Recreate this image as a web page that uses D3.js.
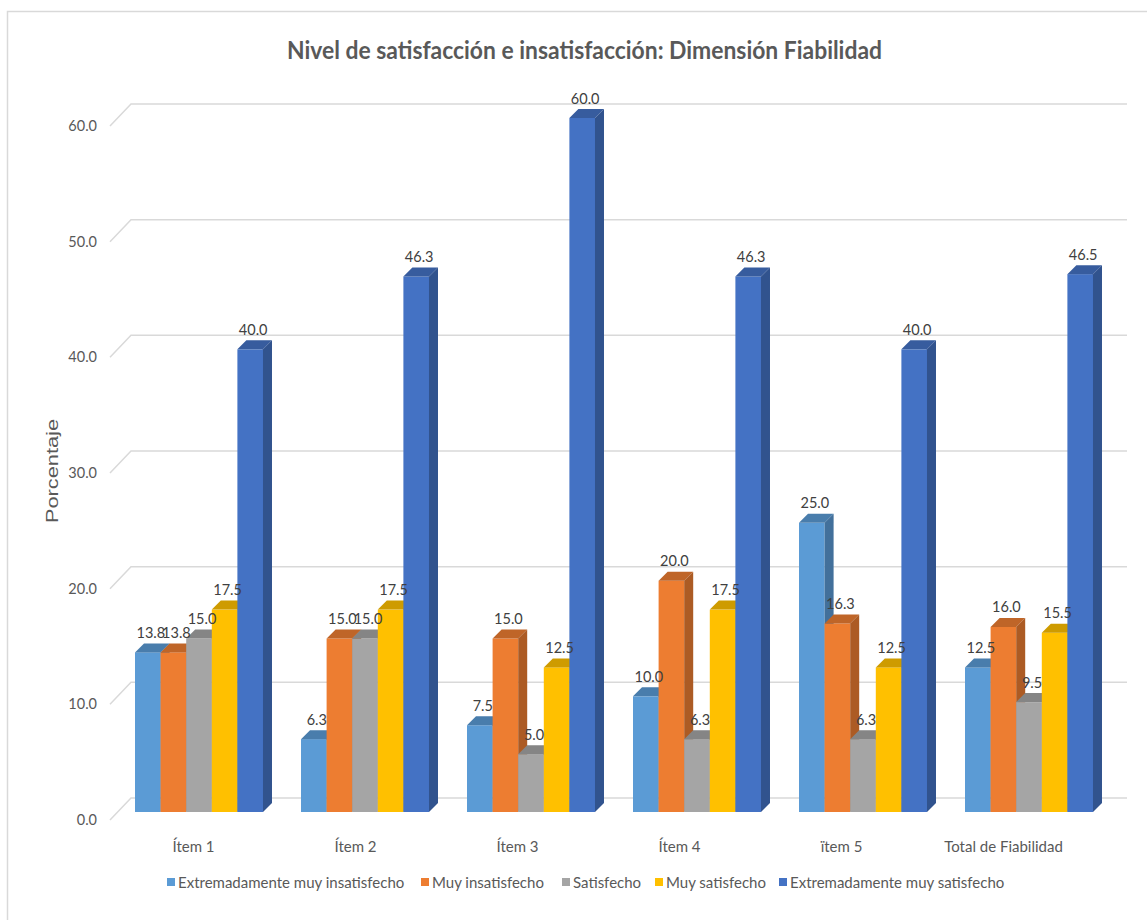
<!DOCTYPE html>
<html>
<head>
<meta charset="utf-8">
<script src="https://cdn.jsdelivr.net/npm/d3@7"></script>
<style>
  html, body { margin: 0; padding: 0; background: #fff; }
  svg { display: block; }
  text { font-family: Lato, "Open Sans", sans-serif; }
</style>
</head>
<body>
<svg id="chart" width="1147" height="920"></svg>
<script>
// Categories and series
const categories = ["Ítem 1", "Ítem 2", "Ítem 3", "Ítem 4", "ïtem 5", "Total de Fiabilidad"];
const seriesNames = [
  "Extremadamente muy insatisfecho",
  "Muy insatisfecho",
  "Satisfecho",
  "Muy satisfecho",
  "Extremadamente muy satisfecho"
];
const extInsatisfecho = [13.8, 6.3, 7.5, 10.0, 25.0, 12.5];
const muyInsatisfecho = [13.8, 15.0, 15.0, 20.0, 16.3, 16.0];
const satisfecho      = [15.0, 15.0, 5.0, 6.3, 6.3, 9.5];
const muySatisfecho   = [17.5, 17.5, 12.5, 17.5, 12.5, 15.5];
const extSatisfecho   = [40.0, 46.3, 60.0, 46.3, 40.0, 46.5];
const yTicks = [0, 10, 20, 30, 40, 50, 60];
const colors = ["#5B9BD5", "#ED7D31", "#A5A5A5", "#FFC000", "#4472C4"];

const seriesValues = [extInsatisfecho, muyInsatisfecho, satisfecho, muySatisfecho, extSatisfecho];

const svg = d3.select("#chart");
const textColor = "#595959";

// Chart area border
svg.append("rect")
  .attr("x", 7.5).attr("y", 11.5)
  .attr("width", 1160).attr("height", 930)
  .attr("fill", "#fff")
  .attr("stroke", "#d9d9d9").attr("stroke-width", 1.5);

// Scales (y on the bars' front face)
const y = d3.scaleLinear().domain([0, 60]).range([812, 118]);
const x = d3.scaleBand().domain(categories).range([116, 1112])
  .paddingInner(0.229).paddingOuter(0.1145);
const xs = d3.scaleBand().domain(seriesNames).range([0, x.bandwidth()]);
// category labels sit along the front edge of the floor
const xLabel = d3.scaleBand().domain(categories).range([112.5, 1084.5]);

// 3D offsets
const depth = { dx: 9, dy: 9 };          // bar depth
const front = { dx: -7, dy: 8 };         // front edge of the plot box relative to bar face
const back = { dx: 14, dy: -14 };        // back wall relative to bar face
const gridRight = 1127;

// Gridlines on the back wall with the diagonal on the side wall
const grid = svg.append("g");
yTicks.forEach(v => {
  const yy = y(v);
  const x0 = 117 + front.dx, y0 = yy + front.dy;
  const x1 = 117 + back.dx, y1 = yy + back.dy;
  grid.append("path")
    .attr("d", `M${x0},${y0}L${x1},${y1}L${gridRight},${y1}`)
    .attr("fill", "none")
    .attr("stroke", "#d9d9d9")
    .attr("stroke-width", 1.5);
});

// Y axis tick labels
const yAxis = d3.axisLeft(y).tickValues(yTicks).tickFormat(d3.format(".1f")).tickSize(0).tickPadding(0);
const yAxisG = svg.append("g")
  .attr("transform", `translate(${97}, ${front.dy})`)
  .call(yAxis);
yAxisG.select(".domain").remove();
yAxisG.selectAll("text")
  .attr("fill", textColor)
  .style("font-size", "14.5px")
  .style("font-family", "Lato, 'Open Sans', sans-serif");

// Bars (drawn left to right so that each bar hides its neighbour's side face)
const barsG = svg.append("g");
const labels = [];
categories.forEach((cat, ci) => {
  seriesValues.forEach((vals, si) => {
    const v = vals[ci];
    const bx0 = x(cat) + xs(seriesNames[si]);
    const bx1 = bx0 + xs.bandwidth();
    const yTop = y(v), yBase = y(0);
    const c = d3.color(colors[si]);
    const g = barsG.append("g");
    // front face
    g.append("rect")
      .attr("x", bx0).attr("y", yTop)
      .attr("width", bx1 - bx0).attr("height", yBase - yTop)
      .attr("fill", colors[si]);
    // top face
    g.append("path")
      .attr("d", `M${bx0},${yTop}L${bx0 + depth.dx},${yTop - depth.dy}L${bx1 + depth.dx},${yTop - depth.dy}L${bx1},${yTop}Z`)
      .attr("fill", c.darker(0.6).formatHex());
    // side face
    g.append("path")
      .attr("d", `M${bx1},${yTop}L${bx1 + depth.dx},${yTop - depth.dy}L${bx1 + depth.dx},${yBase - depth.dy}L${bx1},${yBase}Z`)
      .attr("fill", c.darker(0.9).formatHex());
    labels.push({ x: (bx0 + bx1) / 2 + 3, y: yTop - 20, v });
  });
});

// Data labels
svg.append("g").selectAll("text")
  .data(labels)
  .join("text")
  .attr("x", d => d.x)
  .attr("y", d => d.y)
  .attr("text-anchor", "middle")
  .attr("dominant-baseline", "central")
  .attr("fill", "#404040")
  .style("font-size", "14.5px")
  .text(d => d3.format(".1f")(d.v));

// Category labels
svg.append("g").selectAll("text")
  .data(categories)
  .join("text")
  .attr("x", d => xLabel(d) + xLabel.bandwidth() / 2)
  .attr("y", 846)
  .attr("text-anchor", "middle")
  .attr("dominant-baseline", "central")
  .attr("fill", textColor)
  .style("font-size", "15px")
  .text(d => d);

// Title
svg.append("text")
  .attr("x", 584.5)
  .attr("y", 49)
  .attr("text-anchor", "middle")
  .attr("dominant-baseline", "central")
  .attr("fill", textColor)
  .attr("textLength", 595)
  .attr("lengthAdjust", "spacingAndGlyphs")
  .style("font-size", "24px")
  .style("font-weight", "bold")
  .text("Nivel de satisfacción e insatisfacción: Dimensión Fiabilidad");

// Y axis title
svg.append("text")
  .attr("transform", "translate(52,471) rotate(-90)")
  .attr("text-anchor", "middle")
  .attr("dominant-baseline", "central")
  .attr("fill", textColor)
  .attr("textLength", 104)
  .attr("lengthAdjust", "spacingAndGlyphs")
  .style("font-family", "'Liberation Sans', Arial, sans-serif")
  .style("font-size", "16px")
  .text("Porcentaje");

// Legend
const legendX = [167, 421, 562, 655, 779];
const legend = svg.append("g");
seriesNames.forEach((name, i) => {
  const g = legend.append("g").attr("transform", `translate(${legendX[i]},882)`);
  g.append("rect").attr("x", 0).attr("y", -4).attr("width", 8).attr("height", 8).attr("fill", colors[i]);
  g.append("text")
    .attr("x", 11)
    .attr("y", 0)
    .attr("dominant-baseline", "central")
    .attr("fill", textColor)
    .style("font-size", "15px")
    .text(name);
});
</script>
</body>
</html>
